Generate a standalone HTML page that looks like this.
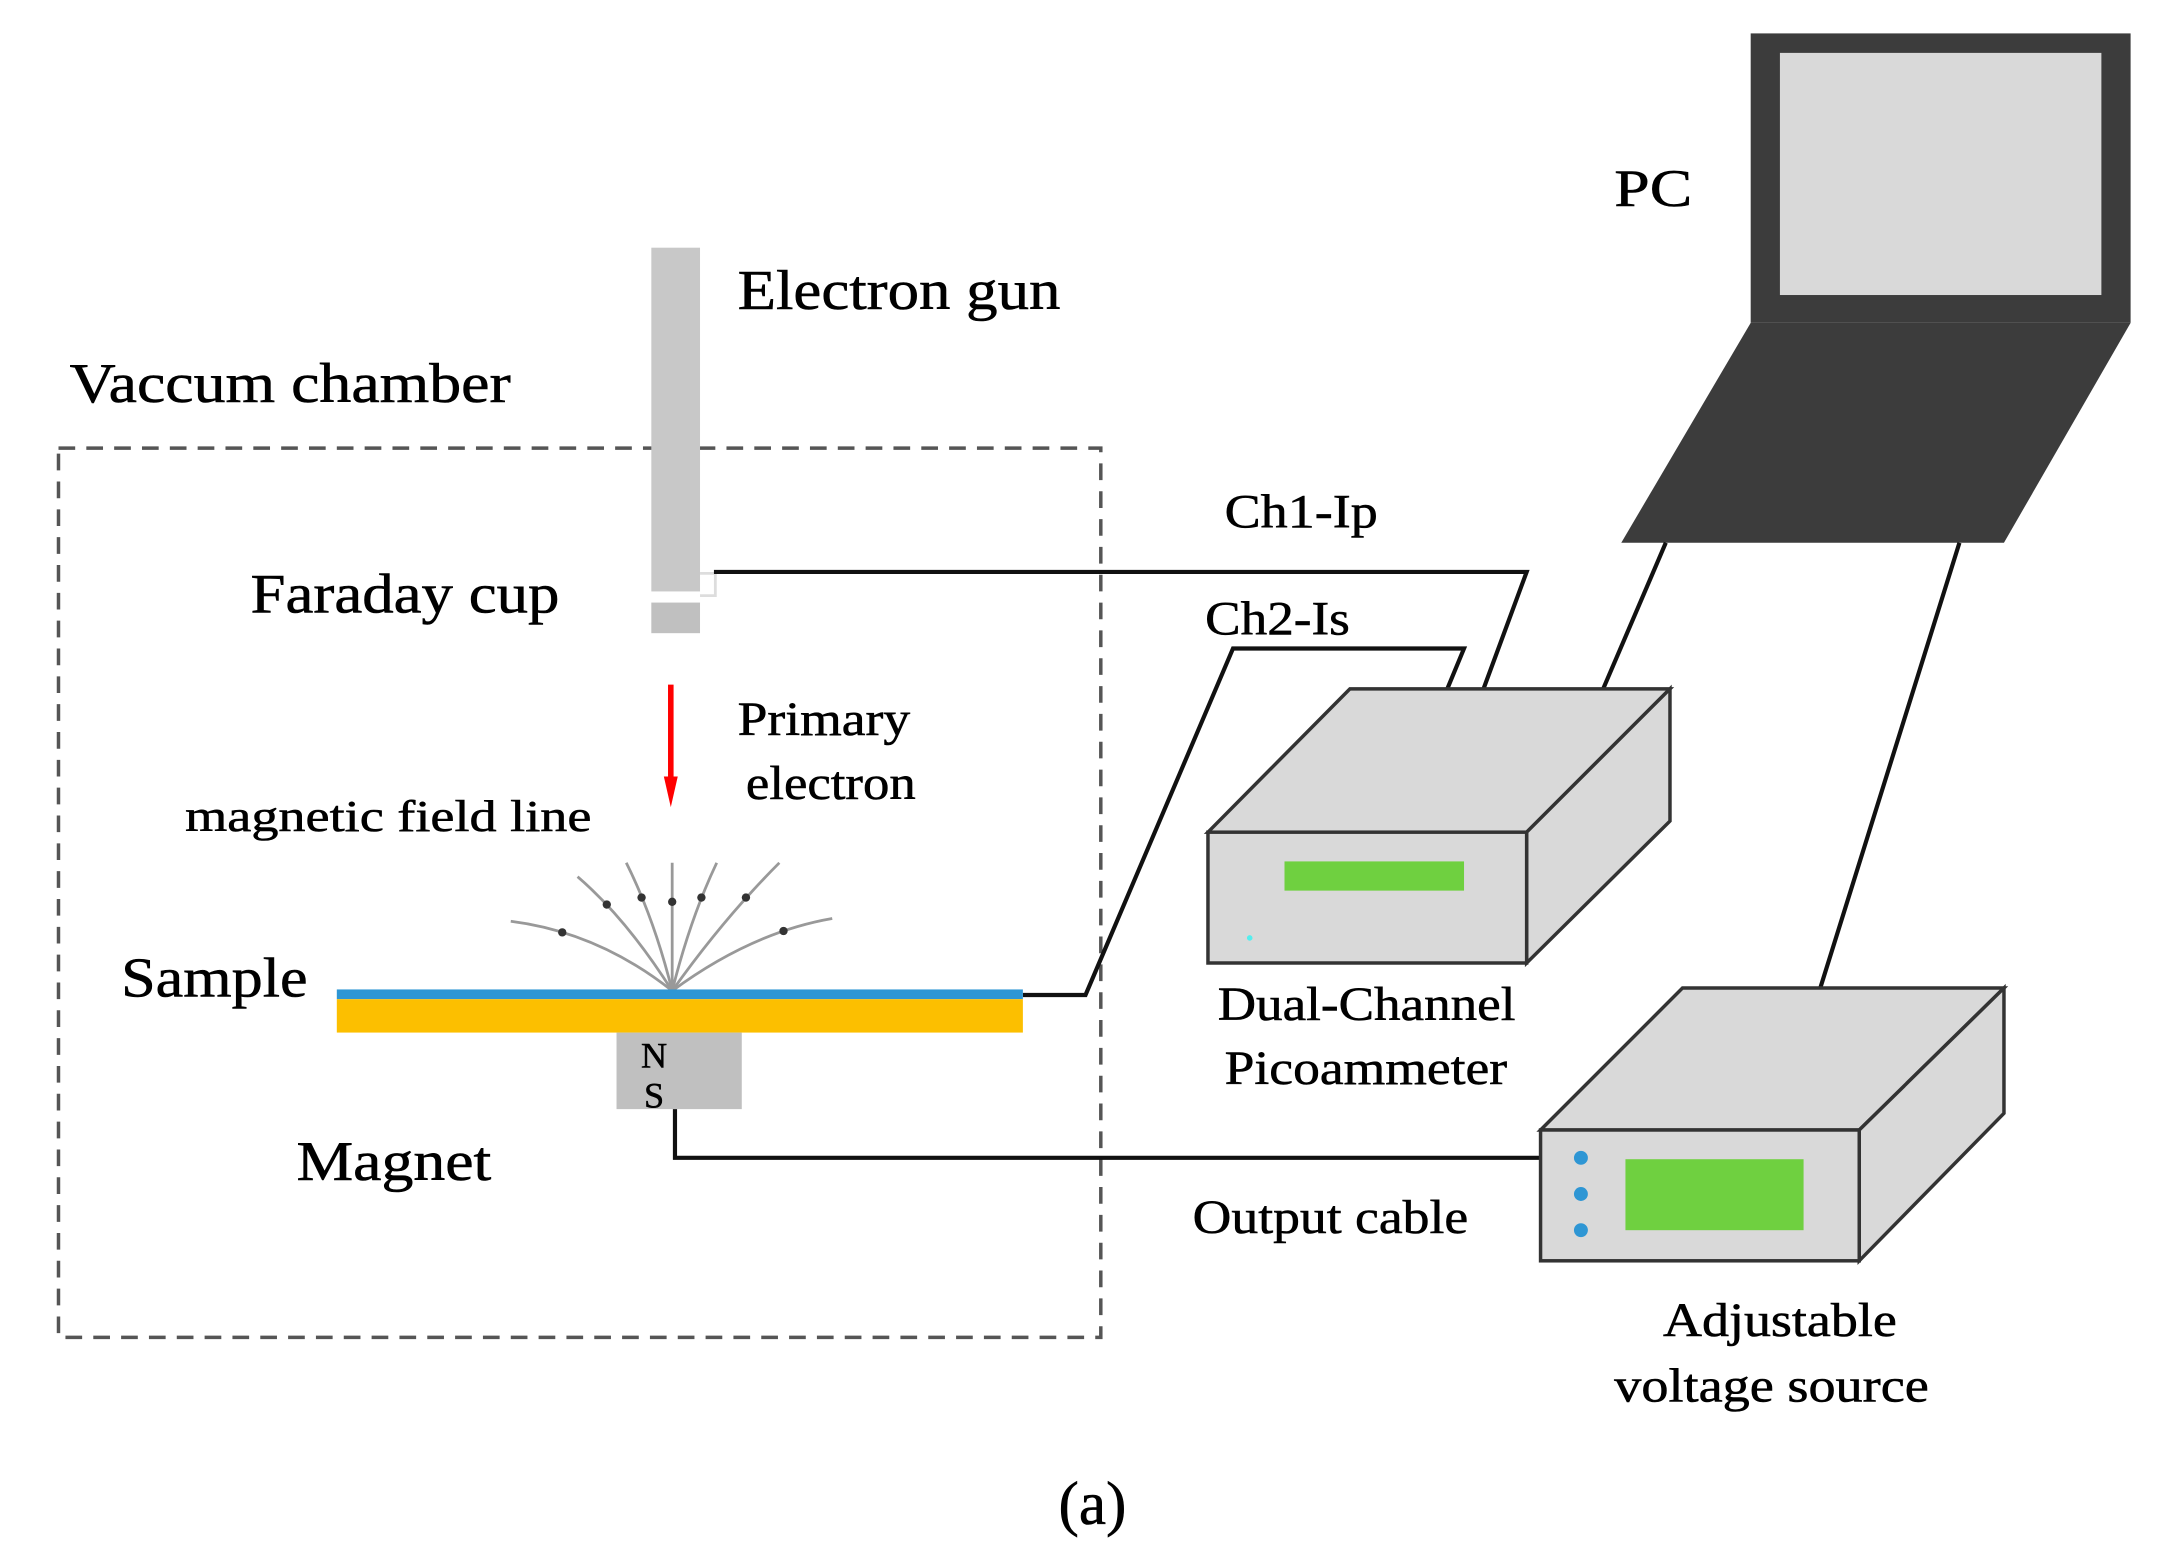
<!DOCTYPE html>
<html><head><meta charset="utf-8"><style>
html,body{margin:0;padding:0;background:#fff;}
svg{display:block;}
text{font-family:"Liberation Serif",serif;fill:#000;stroke:#000;stroke-width:0.4;}
</style></head><body>
<svg width="2171" height="1560" viewBox="0 0 1560 1121" xmlns="http://www.w3.org/2000/svg">
<rect x="42" y="322" width="749" height="639" fill="none" stroke="#555" stroke-width="2.5" stroke-dasharray="12,8"/>
<rect x="468" y="178" width="35" height="247" fill="#c8c8c8"/>
<rect x="468" y="433" width="35" height="22" fill="#c0c0c0"/>
<path d="M503 412 H514 V428 H503" fill="none" stroke="#ddd" stroke-width="2"/>
<polyline points="513,411 1097,411 1066,495" fill="none" stroke="#111" stroke-width="3"/>
<polyline points="735,715 780,715 886,466 1052,466 1040,495" fill="none" stroke="#111" stroke-width="3"/>
<line x1="482" y1="492" x2="482" y2="560" stroke="#f00" stroke-width="4"/>
<polygon points="477,558 487,558 482,580" fill="#f00"/>
<g fill="none" stroke="#999" stroke-width="2">
<path d="M483 712 Q430 670 367 662"/>
<path d="M483 712 Q450 660 415 630"/>
<path d="M483 712 Q470 660 450 620"/>
<path d="M483 712 V620"/>
<path d="M483 712 Q496 660 515 620"/>
<path d="M483 712 Q520 660 560 620"/>
<path d="M483 712 Q540 670 598 660"/>
</g>
<g fill="#333"><circle cx="404" cy="670" r="3"/><circle cx="436" cy="650" r="3"/><circle cx="461" cy="645" r="3"/><circle cx="483" cy="648" r="3"/><circle cx="504" cy="645" r="3"/><circle cx="536" cy="645" r="3"/><circle cx="563" cy="669" r="3"/></g>
<rect x="242" y="711" width="493" height="7" fill="#2e96d4"/>
<rect x="242" y="718" width="493" height="24" fill="#fcbf00"/>
<rect x="443" y="742" width="90" height="55" fill="#c0c0c0"/>
<text x="470" y="767" font-size="26" text-anchor="middle">N</text>
<text x="470" y="796" font-size="26" text-anchor="middle">S</text>
<polyline points="485,797 485,832 1135,832" fill="none" stroke="#111" stroke-width="3"/>
<rect x="1258" y="24" width="273" height="208" fill="#3c3c3c"/>
<rect x="1279" y="38" width="231" height="174" fill="#d9d9d9"/>
<polygon points="1258,232 1531,232 1440,390 1165,390" fill="#3c3c3c"/>
<line x1="1197" y1="390" x2="1152" y2="495" stroke="#111" stroke-width="3"/>
<line x1="1408" y1="390" x2="1308" y2="710" stroke="#111" stroke-width="3"/>
<g stroke="#333" stroke-width="2.5" fill="#d9d9d9">
<polygon points="868,598 970,495 1200,495 1097,598"/>
<polygon points="1097,598 1200,495 1200,590 1097,692"/>
<rect x="868" y="598" width="229" height="94"/>
</g>
<rect x="923" y="619" width="129" height="21" fill="#6fd040"/>
<circle cx="898" cy="674" r="2" fill="#5ee"/>
<g stroke="#333" stroke-width="2.5" fill="#d9d9d9">
<polygon points="1107,812 1209,710 1440,710 1336,812"/>
<polygon points="1336,812 1440,710 1440,800 1336,906"/>
<rect x="1107" y="812" width="229" height="94"/>
</g>
<rect x="1168" y="833" width="128" height="51" fill="#6fd040"/>
<g fill="#2e96d4"><circle cx="1136" cy="832" r="5"/><circle cx="1136" cy="858" r="5"/><circle cx="1136" cy="884" r="5"/></g>
<text x="1160" y="148" font-size="38" textLength="56" lengthAdjust="spacingAndGlyphs">PC</text>
<text x="530" y="222" font-size="40" textLength="232" lengthAdjust="spacingAndGlyphs">Electron gun</text>
<text x="50" y="289" font-size="40" textLength="317" lengthAdjust="spacingAndGlyphs">Vaccum chamber</text>
<text x="180" y="440" font-size="40" textLength="222" lengthAdjust="spacingAndGlyphs">Faraday cup</text>
<text x="530" y="528" font-size="34" textLength="124" lengthAdjust="spacingAndGlyphs">Primary</text>
<text x="536" y="574" font-size="34" textLength="122" lengthAdjust="spacingAndGlyphs">electron</text>
<text x="133" y="597" font-size="32" textLength="292" lengthAdjust="spacingAndGlyphs">magnetic field line</text>
<text x="87" y="716" font-size="40" textLength="134" lengthAdjust="spacingAndGlyphs">Sample</text>
<text x="213" y="848" font-size="40" textLength="140" lengthAdjust="spacingAndGlyphs">Magnet</text>
<text x="880" y="379" font-size="34" textLength="110" lengthAdjust="spacingAndGlyphs">Ch1-Ip</text>
<text x="866" y="456" font-size="34" textLength="104" lengthAdjust="spacingAndGlyphs">Ch2-Is</text>
<text x="875" y="733" font-size="34" textLength="214" lengthAdjust="spacingAndGlyphs">Dual-Channel</text>
<text x="880" y="779" font-size="34" textLength="203" lengthAdjust="spacingAndGlyphs">Picoammeter</text>
<text x="857" y="886" font-size="34" textLength="198" lengthAdjust="spacingAndGlyphs">Output cable</text>
<text x="1195" y="960" font-size="34" textLength="168" lengthAdjust="spacingAndGlyphs">Adjustable</text>
<text x="1160" y="1007" font-size="34" textLength="226" lengthAdjust="spacingAndGlyphs">voltage source</text>
<text x="785" y="1095" font-size="44" text-anchor="middle">(a)</text>
</svg>
</body></html>
